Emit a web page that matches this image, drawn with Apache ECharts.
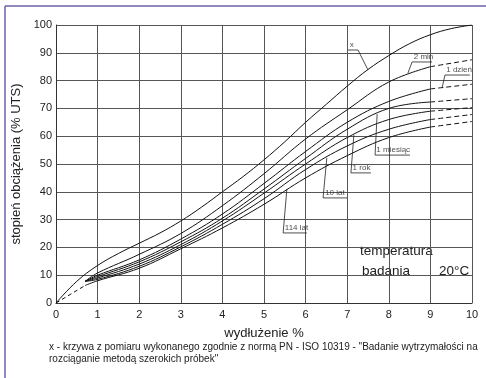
<!DOCTYPE html>
<html>
<head>
<meta charset="utf-8">
<script src="https://cdn.jsdelivr.net/npm/echarts@6/dist/echarts.min.js"></script>
<style>
html,body{margin:0;padding:0;background:#fff;}
#chart{width:486px;height:378px;}
</style>
</head>
<body>
<div id="chart"></div>
<script>
// krzywa x (pomiar wg PN-ISO 10319)
var xsX = [0, 0.5, 1, 1.5, 2, 2.5, 3, 3.5, 4, 4.5, 5, 5.5, 6, 6.5, 7, 7.5, 8, 8.5, 9, 9.5, 10];
var curveX = [0, 7.8, 13.5, 17.8, 21.5, 25.2, 29.5, 34.5, 40, 45.5, 51.5, 58, 65, 71.5, 78, 84, 89, 93.3, 96.5, 98.7, 100];

// krzywe pelzania
var xsB = [0.7, 1, 2, 3, 4, 5, 6, 7, 8, 9, 10];
var curve2min = [7.8, 10.8, 17.5, 25, 35, 46.5, 59, 69.5, 79.5, 85, 87.5];
var curve1dzien = [7.8, 10, 15.5, 23, 32, 43, 54.5, 65, 72.5, 77, 78.7];
var curve1mies = [7.8, 9.5, 14.8, 22, 30.5, 41, 52, 62.5, 70, 72.3, 73.5];
var curve1rok = [7.8, 9, 14, 21, 29.5, 39.5, 50, 59.5, 66, 69, 70.3];
var curve10lat = [7.8, 8.5, 13.2, 20.2, 28.3, 37.5, 48, 56.5, 62.5, 66, 67.8];
var curve114lat = [6.3, 8, 12.5, 19.5, 27, 35.5, 45, 53, 59.5, 63.3, 65.3];
var solidTo = 9; // dalej linia przerywana

// opisy krzywych
var noteNames = ['x', '2 min', '1 dzień', '1 miesiąc', '1 rok', '10 lat', '114 lat'];
var notePos = [[7.06, 91], [8.6, 86.7], [9.38, 82], [7.7, 53.2], [7.13, 46.8], [6.47, 37.8], [5.5, 25.2]];
var noteLines = [
	[[7.02, 91], [7.26, 91], [7.5, 83.8]],
	[[9.04, 86.7], [8.56, 86.7], [8.46, 82.7]],
	[[9.95, 82], [9.35, 82], [9.28, 77.3]],
	[[8.51, 53.2], [7.67, 53.2], [7.72, 68]],
	[[7.57, 46.8], [7.09, 46.8], [7.16, 60.4]],
	[[7.0, 37.8], [6.42, 37.8], [6.51, 52.2]],
	[[6.03, 25.2], [5.46, 25.2], [5.55, 41]]
];

var xTicks = [0, 1, 2, 3, 4, 5, 6, 7, 8, 9, 10];
var yTicks = [0, 10, 20, 30, 40, 50, 60, 70, 80, 90, 100];

function pairs(xs, ys, from, to) {
	var out = [];
	for (var i = 0; i < xs.length; i++) {
		if (xs[i] >= from && xs[i] <= to) out.push([xs[i], ys[i]]);
	}
	return out;
}

function curveSeries(xs, ys) {
	return [
		{type: 'line', data: pairs(xs, ys, 0, solidTo), smooth: 0.4, symbol: 'none',
			lineStyle: {color: '#111', width: 1}},
		{type: 'line', data: pairs(xs, ys, solidTo, 10), smooth: 0.4, symbol: 'none',
			lineStyle: {color: '#111', width: 1, type: [5, 3]}}
	];
}

var myChart = echarts.init(document.getElementById('chart'));
var series = [];
series.push({type: 'line', data: pairs(xsX, curveX, 0, 10), smooth: 0.4, symbol: 'none',
	lineStyle: {color: '#111', width: 1}});
var bundle = [curve2min, curve1dzien, curve1mies, curve1rok, curve10lat, curve114lat];
for (var b = 0; b < bundle.length; b++) {
	series = series.concat(curveSeries(xsB, bundle[b]));
}
// przedluzenie do zera
series.push({type: 'line', data: [[0, 0], [xsB[0], curve114lat[0]]], symbol: 'none',
	lineStyle: {color: '#111', width: 1, type: [4, 3]}});
for (var n = 0; n < noteLines.length; n++) {
	series.push({type: 'line', data: noteLines[n], symbol: 'none',
		lineStyle: {color: '#222', width: 0.8}});
}
series.push({
	type: 'scatter', symbolSize: 0,
	data: notePos.map(function (p, i) { return {value: p, name: noteNames[i]}; }),
	label: {show: true, position: 'top', align: 'left', distance: 1, formatter: '{b}',
		fontSize: 8, color: '#222', fontFamily: 'Liberation Sans'}
});

var gridStyle = {show: true, lineStyle: {color: '#555', width: 1}};
var option = {
	animation: false,
	textStyle: {fontFamily: 'Liberation Sans'},
	grid: {left: 56, top: 25, right: 14, bottom: 75},
	xAxis: {
		type: 'value', min: 0, max: 10, interval: 1,
		name: 'wydłużenie %', nameLocation: 'middle', nameGap: 24,
		nameTextStyle: {fontSize: 13, color: '#222'},
		axisLine: {show: true, lineStyle: {color: '#333'}},
		axisTick: {show: false},
		axisLabel: {color: '#222', fontSize: 11, margin: 6,
			formatter: function (v) { return xTicks.indexOf(v) >= 0 ? v : ''; }},
		splitLine: gridStyle
	},
	yAxis: {
		type: 'value', min: 0, max: 100, interval: 10,
		name: 'stopień obciążenia (% UTS)', nameLocation: 'middle', nameGap: 24,
		nameTextStyle: {fontSize: 13, color: '#222'},
		axisLine: {show: true, lineStyle: {color: '#333'}},
		axisTick: {show: false},
		axisLabel: {color: '#222', fontSize: 11, margin: 4,
			formatter: function (v) { return yTicks.indexOf(v) >= 0 ? v : ''; }},
		splitLine: gridStyle
	},
	graphic: [
		{type: 'line', shape: {x1: 5, y1: 6, x2: 486, y2: 6}, style: {stroke: '#6b62a8', lineWidth: 1.5}},
		{type: 'line', shape: {x1: 5, y1: 6, x2: 5, y2: 378}, style: {stroke: '#6b62a8', lineWidth: 1.5}},
		{type: 'text', left: 360, top: 244, style: {text: 'temperatura', fontSize: 13.5, fill: '#222', fontFamily: 'Liberation Sans'}},
		{type: 'text', left: 362, top: 264, style: {text: 'badania', fontSize: 13.5, fill: '#222', fontFamily: 'Liberation Sans'}},
		{type: 'text', left: 439, top: 264, style: {text: '20°C', fontSize: 13.5, fill: '#222', fontFamily: 'Liberation Sans'}},
		{type: 'text', left: 49, top: 342, style: {text: 'x - krzywa z pomiaru wykonanego zgodnie z normą PN - ISO 10319 - "Badanie wytrzymałości na', fontSize: 10, fill: '#222', fontFamily: 'Liberation Sans'}},
		{type: 'text', left: 49, top: 354, style: {text: 'rozciąganie metodą szerokich próbek"', fontSize: 10, fill: '#222', fontFamily: 'Liberation Sans'}}
	],
	series: series
};
myChart.setOption(option);
</script>
</body>
</html>
